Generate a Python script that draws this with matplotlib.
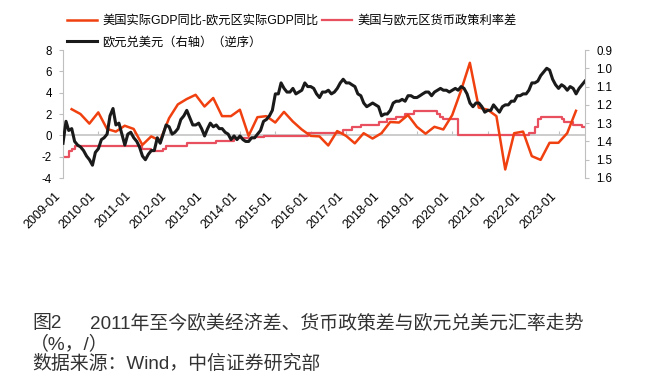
import numpy as np
import pandas as pd
import matplotlib
matplotlib.use('Agg')
import matplotlib.pyplot as plt

plt.rcParams['font.family'] = ['Liberation Sans', 'Noto Sans CJK SC']
plt.rcParams['axes.unicode_minus'] = False

# 美国实际GDP同比-欧元区实际GDP同比（季度，%）
gdp_diff = [2.45, 2.0, 1.1, 2.15, 0.6, 0.35, 0.9, 0.6, -0.9, -0.1, -0.5, 1.6,
            2.9, 3.4, 3.8, 2.7, 3.5, 1.8, 1.8, 2.4, -0.05, 1.7, 1.8, 1.2,
            2.2, 1.3, 0.55, -0.05, -0.1, -0.95, 0.4, -0.05, -0.75, 0.2, -0.3, 0.2,
            1.25, 1.2, 1.9, 0.8, 0.15, 0.8, 0.55, 1.9, 4.2, 6.8, 2.6, 2.4,
            1.8, -3.2, 0.2, 0.35, -1.95, -2.3, -0.7, -0.7, 0.2, 2.3]
gdp_dates = pd.date_range('2009-03-31', periods=len(gdp_diff), freq='QE')

# 美国与欧元区货币政策利率差（变动时点）
rate_dates = pd.to_datetime([
    '2009-01-01', '2009-03-01', '2009-04-01', '2009-05-01', '2011-04-01', '2011-07-01',
    '2011-11-01', '2011-12-01', '2012-07-01', '2013-05-01', '2013-11-01', '2014-06-01',
    '2014-09-01', '2015-12-01', '2016-03-01', '2016-12-01', '2017-03-01', '2017-06-01',
    '2017-12-01', '2018-03-01', '2018-06-01', '2018-09-01', '2018-12-01', '2019-08-01',
    '2019-09-01', '2019-10-01', '2020-03-01', '2022-03-01', '2022-05-01', '2022-06-01',
    '2022-07-01', '2023-02-01', '2023-03-01', '2023-06-01', '2023-09-01', '2023-10-01'])
rate_diff = [-2.0, -1.5, -1.25, -1.0, -1.25, -1.5, -1.25, -1.0, -0.75, -0.5, -0.25, -0.15,
             -0.05, 0.2, 0.25, 0.5, 0.75, 1.0, 1.25, 1.5, 1.75, 2.0, 2.25, 2.0,
             1.75, 1.5, 0.0, 0.25, 0.75, 1.5, 1.75, 1.5, 1.25, 1.0, 0.75, 0.75]

# 欧元兑美元（月度）
eurusd = [
    1.41, 1.29, 1.34, 1.33, 1.40, 1.42, 1.43, 1.45, 1.48, 1.50, 1.53, 1.46,
    1.44, 1.39, 1.38, 1.36, 1.26, 1.22, 1.31, 1.30, 1.36, 1.42, 1.36, 1.35,
    1.38, 1.40, 1.43, 1.48, 1.50, 1.47, 1.45, 1.45, 1.38, 1.41, 1.36, 1.31,
    1.32, 1.36, 1.35, 1.33, 1.28, 1.26, 1.23, 1.27, 1.31, 1.31, 1.30, 1.33,
    1.37, 1.33, 1.30, 1.32, 1.31, 1.33, 1.33, 1.35, 1.36, 1.39, 1.37, 1.39,
    1.37, 1.39, 1.40, 1.40, 1.38, 1.38, 1.36, 1.34, 1.29, 1.28, 1.26, 1.23,
    1.14, 1.14, 1.08, 1.11, 1.13, 1.13, 1.11, 1.14, 1.13, 1.12, 1.08, 1.10,
    1.10, 1.11, 1.14, 1.16, 1.13, 1.13, 1.12, 1.14, 1.13, 1.11, 1.08, 1.06,
    1.08, 1.08, 1.09, 1.10, 1.14, 1.15, 1.19, 1.21, 1.20, 1.19, 1.20, 1.21,
    1.26, 1.25, 1.25, 1.23, 1.19, 1.18, 1.18, 1.17, 1.18, 1.15, 1.15, 1.16,
    1.16, 1.15, 1.14, 1.13, 1.13, 1.15, 1.13, 1.12, 1.11, 1.12, 1.12, 1.13,
    1.12, 1.11, 1.12, 1.10, 1.11, 1.14, 1.19, 1.21, 1.19, 1.19, 1.21, 1.24,
    1.23, 1.23, 1.20, 1.22, 1.24, 1.21, 1.20, 1.20, 1.18, 1.18, 1.15, 1.15,
    1.14, 1.14, 1.12, 1.08, 1.08, 1.07, 1.04, 1.02, 1.00, 1.01, 1.06, 1.09,
    1.11, 1.09, 1.10, 1.12, 1.10, 1.11, 1.14, 1.11, 1.09, 1.07]
fx_dates = pd.date_range('2009-01-01', periods=len(eurusd), freq='MS')

years = list(range(2009, 2024))
tick_dates = pd.to_datetime([f'{y}-01-01' for y in years])
tick_labels = [f'{y}-01' for y in years]

grey = '#bfbfbf'
fig = plt.figure(figsize=(6.56, 3.89), dpi=100)
ax = fig.add_axes([63/656, 1-178/389, (585-63)/656, 128/389])

ax.axhline(0, color='#c8c8c8', lw=1.3, zorder=1)
l_rate, = ax.plot(rate_dates, rate_diff, drawstyle='steps-post', color='#E9505F', lw=1.6, zorder=2)
l_gdp, = ax.plot(gdp_dates, gdp_diff, color='#F0400F', lw=1.8, zorder=3)

ax.set_xlim(pd.Timestamp('2009-01-01'), pd.Timestamp('2023-10-01'))
ax.set_ylim(-4, 8)
ax.set_yticks(np.arange(-4, 9, 2))
ax.set_xticks(tick_dates)
ax.set_xticklabels(tick_labels, rotation=45, ha='right')
ax.tick_params(axis='x', length=0, pad=8.5, labelsize=9)
ax.tick_params(axis='y', length=3, color=grey, labelsize=8.3, pad=5)
for s in ['top', 'bottom', 'right']:
    ax.spines[s].set_visible(False)
ax.spines['left'].set_color(grey)

# 零轴上的刻度
sec = ax.secondary_xaxis(1/3)
sec.set_xticks(tick_dates)
sec.tick_params(direction='in', length=3, color=grey, labelbottom=False, labeltop=False)
for s in sec.spines.values():
    s.set_visible(False)

ax2 = ax.twinx()
l_fx, = ax2.plot(fx_dates, eurusd, color='#1a1a1a', lw=2.2)
ax2.set_ylim(1.6, 0.9)
ax2.set_yticks(np.arange(0.9, 1.61, 0.1))
ax2.set_yticklabels([f'{v:.1f}' for v in np.arange(0.9, 1.61, 0.1)])
ax2.tick_params(axis='y', length=3, color=grey, labelsize=8.3, pad=5)
for s in ['top', 'bottom', 'left']:
    ax2.spines[s].set_visible(False)
ax2.spines['right'].set_color(grey)

fig.legend([l_gdp, l_fx, l_rate],
           ['美国实际GDP同比-欧元区实际GDP同比', '欧元兑美元（右轴）（逆序）', '美国与欧元区货币政策利率差'],
           ncol=2, loc='upper left', bbox_to_anchor=(67/656, 1-15/389), frameon=False,
           fontsize=8.8, handlelength=2.45, handletextpad=0.45, columnspacing=0.25,
           labelspacing=0.75, borderpad=0, borderaxespad=0)

cap = dict(fontsize=13.6, va='center', color='#333333')
fig.text(32/656, 1-324/389, '图2', **cap)
fig.text(90/656, 1-324/389, '2011年至今欧美经济差、货币政策差与欧元兑美元汇率走势', **cap)
fig.text(30/656, 1-344/389, '（%，/）', **cap)
fig.text(32/656, 1-364/389, '数据来源：Wind，中信证券研究部', **cap)

fig.savefig('out.png', dpi=100)
